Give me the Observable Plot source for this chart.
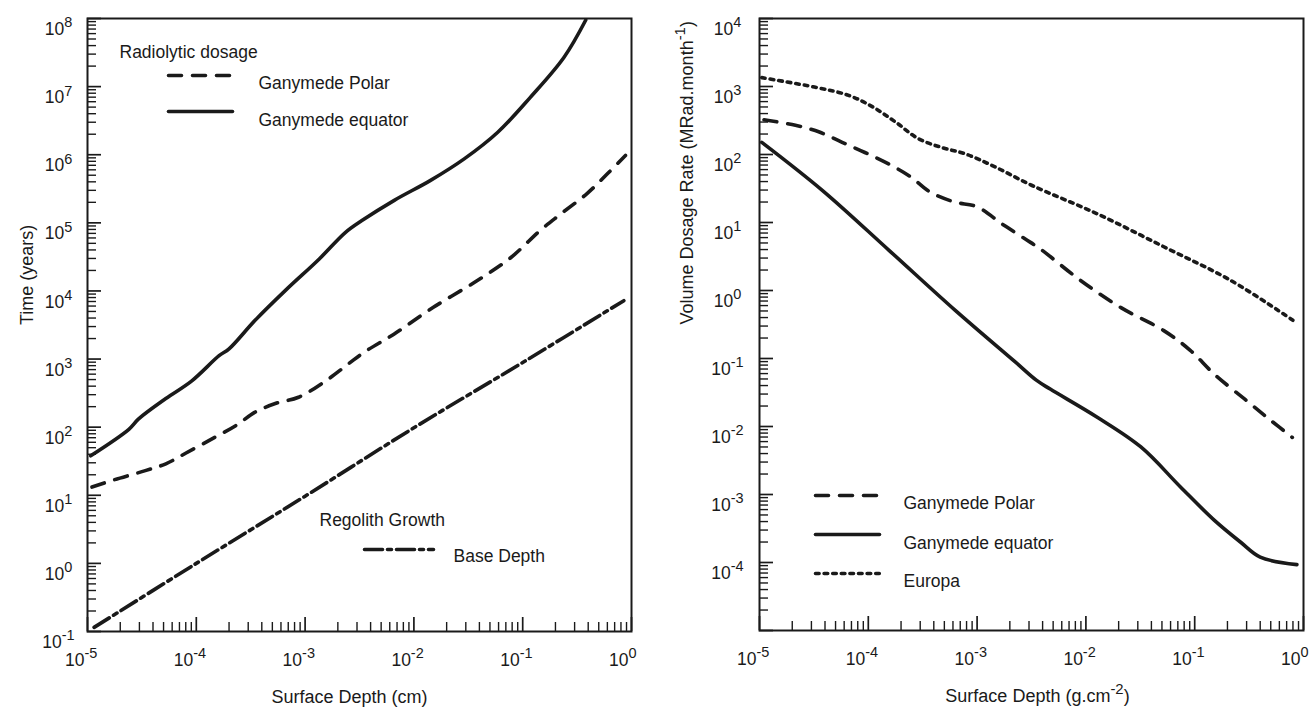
<!DOCTYPE html>
<html><head><meta charset="utf-8">
<script src="https://cdn.jsdelivr.net/npm/d3@7"></script>
<script src="https://cdn.jsdelivr.net/npm/@observablehq/plot@0.6"></script>
<style>
html,body{margin:0;padding:0;background:#fff;}
#wrap{display:flex;width:1312px;height:711px;overflow:hidden;}
</style></head><body><div id="wrap"></div>
<script>
// ---------- Left panel: Time (years) vs Surface Depth (cm) ----------
const leftEquatorX = [1.07e-5, 2.4e-5, 2.95e-5, 5.25e-5, 9.1e-5, 1.62e-4, 2.0e-4, 3.47e-4, 6.6e-4, 1.35e-3, 2.34e-3, 3.3e-3, 6.6e-3, 1.41e-2, 2.9e-2, 5.9e-2, 0.117, 0.24, 0.38];
const leftEquatorY = [38, 93, 132, 263, 479, 1120, 1410, 3700, 10200, 29500, 72000, 107000, 214000, 417000, 870000, 2.14e6, 6.9e6, 2.7e7, 9.5e7];
const leftPolarX = [1.1e-5, 1.7e-5, 3.4e-5, 5.25e-5, 7.9e-5, 1.48e-4, 2.3e-4, 3.47e-4, 5.4e-4, 8.7e-4, 1.55e-3, 2.5e-3, 3.6e-3, 6.6e-3, 1.51e-2, 3.8e-2, 7.8e-2, 0.145, 0.224, 0.39, 0.60, 0.88];
const leftPolarY = [13.2, 16.6, 23, 29, 41, 71, 105, 166, 224, 275, 479, 850, 1300, 2340, 5750, 14100, 31000, 77600, 135000, 269000, 525000, 977000];
const leftBaseX = [1.15e-5, 1e-4, 1e-3, 1e-2, 1e-1, 0.85];
const leftBaseY = [0.115, 1.0, 9.7, 98, 890, 7200];

// ---------- Right panel: Volume Dosage Rate vs Surface Depth (g.cm-2) ----------
const rightEuropaX = [1.05e-5, 3.2e-5, 6.6e-5, 1.1e-4, 1.78e-4, 2.9e-4, 4.8e-4, 7.8e-4, 1.48e-3, 3.2e-3, 1.26e-2, 5.2e-2, 0.214, 0.81];
const rightEuropaY = [1350, 980, 740, 500, 300, 170, 126, 102, 65, 35, 13.5, 4.4, 1.41, 0.36];
const rightPolarX = [1.1e-5, 2.14e-5, 3.55e-5, 5.75e-5, 9.3e-5, 1.55e-4, 2.45e-4, 3.7e-4, 6.2e-4, 1.0e-3, 1.7e-3, 2.75e-3, 3.8e-3, 8.9e-3, 2.1e-2, 5.2e-2, 9.1e-2, 0.151, 0.30, 0.50, 0.79];
const rightPolarY = [324, 269, 214, 151, 107, 72, 47, 28, 20, 17, 9.5, 5.75, 4.1, 1.41, 0.56, 0.257, 0.132, 0.059, 0.024, 0.0123, 0.0069];
const rightEquatorX = [1.05e-5, 3.8e-5, 1.55e-4, 6.3e-4, 2.24e-3, 3.5e-3, 4.7e-3, 1.26e-2, 3.2e-2, 7.4e-2, 0.151, 0.263, 0.40, 0.87];
const rightEquatorY = [151, 29.5, 3.9, 0.51, 0.089, 0.048, 0.0355, 0.0138, 0.005, 1.29e-3, 4.2e-4, 2.0e-4, 1.2e-4, 9.3e-5];

// ---------- Ticks ----------
const xMajorTicks = [1e-5, 1e-4, 1e-3, 1e-2, 1e-1, 1];
const leftYMajorTicks = [1e-1, 1, 10, 100, 1e3, 1e4, 1e5, 1e6, 1e7, 1e8];
const rightYMajorTicks = [1e-5, 1e-4, 1e-3, 1e-2, 1e-1, 1, 10, 100, 1e3, 1e4];
const rightYLabelTicks = [1e-4, 1e-3, 1e-2, 1e-1, 1, 10, 100, 1e3, 1e4];
const minorMultipliers = [2, 3, 4, 5, 6, 7, 8, 9];

// ---------- Texts ----------
const leftTitleX = "Surface Depth (cm)";
const leftTitleY = "Time (years)";
const rightTitleX = "Surface Depth (g.cm^{-2})";
const rightTitleY = "Volume Dosage Rate (MRad.month^{-1})";

const FONT = "'Liberation Sans', Arial, Helvetica, sans-serif";
const INK = "#1a1a1a";
const LW = 3.6;
const DASH = "13,11";
const DOT = "3.6,5";
const DASHDOT = "18,5,4,5";
const TICKFS = 17.5;

const rows = (xs, ys) => xs.map((x, i) => ({x, y: ys[i]}));
const minorsOf = (majors) => majors.slice(0, -1).flatMap(d => minorMultipliers.map(m => d * m));
const tickFmt = d => `10^{${Math.round(Math.log10(d))}}`;
const hline = {draw(ctx, l) { ctx.moveTo(0, 0); ctx.lineTo(0, -l); }};

function axisMarks(xMaj, yMaj, yLab, yPad) {
  return [
    Plot.axisX(minorsOf(xMaj), {anchor: "bottom", tickSize: -9, fill: "none", stroke: INK, strokeWidth: 1.4, label: null}),
    Plot.axisX(xMaj, {anchor: "bottom", tickSize: -14, fill: "none", stroke: INK, strokeWidth: 1.7, label: null}),
    Plot.axisX(xMaj, {anchor: "bottom", tickSize: 0, tickPadding: 22, textAnchor: "start", dx: -22.5, tickFormat: tickFmt, fontSize: TICKFS, fill: INK, label: null}),
    Plot.axisY(minorsOf(yMaj), {anchor: "left", tickSize: -9, fill: "none", stroke: INK, strokeWidth: 1.4, label: null}),
    Plot.axisY(yMaj, {anchor: "left", tickSize: -14, fill: "none", stroke: INK, strokeWidth: 1.7, label: null}),
    Plot.axisY(yLab, {anchor: "left", tickSize: 0, tickPadding: yPad, textAnchor: "middle", dy: 11, tickFormat: tickFmt, fontSize: TICKFS, fill: INK, label: null}),
    Plot.frame({stroke: INK, strokeWidth: 2})
  ];
}
const legLine = (dx, dy, len, dash) => Plot.vector([0], {frameAnchor: "top-left", dx, dy, length: len, rotate: 90, anchor: "start", shape: hline, stroke: INK, strokeWidth: LW, strokeDasharray: dash});
const legText = (s, dx, dy) => Plot.text([s], {text: d => d, frameAnchor: "top-left", dx, dy, textAnchor: "start", fontSize: 17.5, fill: INK});
const curve = (xs, ys, dash) => Plot.line(rows(xs, ys), {x: "x", y: "y", curve: "catmull-rom", stroke: INK, strokeWidth: LW, strokeDasharray: dash, clip: true});

const style = {fontFamily: FONT, fontSize: "17px", color: INK, background: "white", overflow: "visible"};

const left = Plot.plot({
  width: 656, height: 711,
  marginLeft: 87, marginRight: 25, marginTop: 18, marginBottom: 80,
  style,
  x: {type: "log", domain: [1e-5, 1], label: null},
  y: {type: "log", domain: [0.1, 1e8], label: null},
  marks: [
    ...axisMarks(xMajorTicks, leftYMajorTicks, leftYMajorTicks, 29),
    curve(leftPolarX, leftPolarY, DASH),
    curve(leftEquatorX, leftEquatorY, null),
    curve(leftBaseX, leftBaseY, DASHDOT),
    legText("Radiolytic dosage", 32, 27.5),
    legLine(81, 57, 64, DASH),
    legText("Ganymede Polar", 171, 58),
    legLine(81, 93, 64, null),
    legText("Ganymede equator", 171, 95),
    legText("Regolith Growth", 232, 495),
    legLine(277, 531, 69, DASHDOT),
    legText("Base Depth", 366, 531.5),
    Plot.text([leftTitleX], {text: d => d, frameAnchor: "bottom", dx: -10, dy: 71, fontSize: 18, fill: INK}),
    Plot.text([leftTitleY], {text: d => d, frameAnchor: "left", dx: -60, rotate: -90, fontSize: 18, fill: INK})
  ]
});

const right = Plot.plot({
  width: 656, height: 711,
  marginLeft: 103, marginRight: 9, marginTop: 18, marginBottom: 81,
  style,
  x: {type: "log", domain: [1e-5, 1], label: null},
  y: {type: "log", domain: [1e-5, 1e4], label: null},
  marks: [
    ...axisMarks(xMajorTicks, rightYMajorTicks, rightYLabelTicks, 32),
    curve(rightEuropaX, rightEuropaY, DOT),
    curve(rightPolarX, rightPolarY, DASH),
    curve(rightEquatorX, rightEquatorY, null),
    legLine(56, 477, 64, DASH),
    legText("Ganymede Polar", 144, 478.5),
    legLine(56, 516, 64, null),
    legText("Ganymede equator", 144, 518),
    legLine(56, 555, 64, DOT),
    legText("Europa", 144, 556.5),
    Plot.text([rightTitleX], {text: d => d, frameAnchor: "bottom", dx: 6, dy: 71, fontSize: 18, fill: INK}),
    Plot.text([rightTitleY], {text: d => d, frameAnchor: "left", dx: -72, rotate: -90, fontSize: 18, fill: INK})
  ]
});

const wrap = document.getElementById("wrap");
wrap.appendChild(left);
wrap.appendChild(right);

// force tick-label font size
for (const svg of [left, right]) {
  svg.querySelectorAll('g[aria-label="x-axis tick label"], g[aria-label="y-axis tick label"]').forEach(g => {
    g.setAttribute("font-size", TICKFS);
    g.style.fontSize = TICKFS + "px";
    g.querySelectorAll("text").forEach(t => { t.style.fontSize = TICKFS + "px"; });
  });
}

// superscripts: "a^{b}" -> tspans
function supify(svg) {
  svg.querySelectorAll("text").forEach(t => {
    const s = t.textContent;
    if (!s.includes("^{")) return;
    const fs = parseFloat(getComputedStyle(t).fontSize) || 17;
    const supSize = Math.round(fs * 0.83 * 10) / 10;
    const raise = Math.round(fs * 0.44 * 10) / 10;
    const parts = s.split(/\^\{([^}]*)\}/);
    while (t.firstChild) t.removeChild(t.firstChild);
    let shifted = false;
    parts.forEach((p, i) => {
      if (!p) return;
      const ts = document.createElementNS("http://www.w3.org/2000/svg", "tspan");
      ts.textContent = p;
      if (i % 2) { ts.setAttribute("dy", -raise); ts.style.fontSize = supSize + "px"; shifted = true; }
      else if (shifted) { ts.setAttribute("dy", raise); shifted = false; }
      t.appendChild(ts);
    });
  });
}
supify(left);
supify(right);
</script>
</body></html>
